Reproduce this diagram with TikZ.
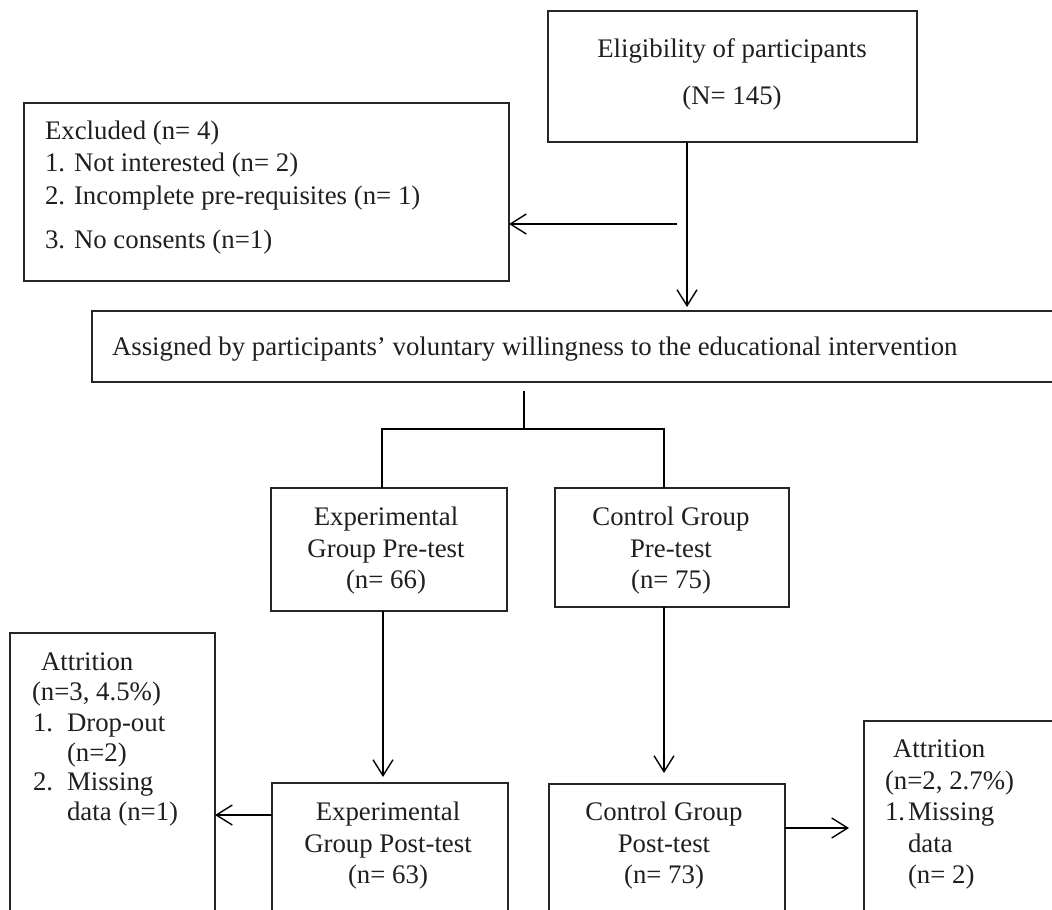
\documentclass[tikz,border=0pt]{standalone}
\usepackage{fontspec}
\setmainfont{Liberation Serif}
\usetikzlibrary{arrows.meta}
\begin{document}
\begin{tikzpicture}[x=1pt,y=-1pt,
  box/.style={draw=black!85, line width=1.4pt, inner sep=0pt, outer sep=0pt, anchor=north west},
  txt/.style={inner sep=0pt, outer sep=0pt, text=black!88, font=\fontsize{26.8}{31}\selectfont},
  conn/.style={line width=1.4pt, draw=black},
  arr/.style={line width=1.4pt, draw=black, -{Straight Barb[length=16pt,width=20pt]}}]
\clip (0,0) rectangle (1052,910);
\fill[white] (0,0) rectangle (1052,910);

% boxes
\node[box, minimum width=369pt, minimum height=131pt] (elig) at (548,11) {};
\node[box, minimum width=485pt, minimum height=178pt] (excl) at (24,103) {};
\node[box, minimum width=1000pt, minimum height=71pt] (assign) at (92,311) {};
\node[box, minimum width=236pt, minimum height=123pt] (exppre) at (271,488) {};
\node[box, minimum width=234pt, minimum height=119pt] (ctrlpre) at (555,488) {};
\node[box, minimum width=236pt, minimum height=200pt] (exppost) at (272,783) {};
\node[box, minimum width=236pt, minimum height=200pt] (ctrlpost) at (549,784) {};
\node[box, minimum width=205pt, minimum height=300pt] (attrL) at (10,633) {};
\node[box, minimum width=250pt, minimum height=260pt] (attrR) at (864,721) {};

% helper coordinates
\coordinate (split) at (687,224);
\coordinate (jm) at (524,429);
\coordinate (jl) at (382,429);
\coordinate (jr) at (664,429);
\coordinate (ax) at (383,700);
\coordinate (cx) at (664,700);
\coordinate (ly) at (240,815);
\coordinate (ry) at (820,828);

% connectors
\draw[arr, shorten >=4pt] (elig.south -| split) -- (assign.north -| split);
\draw[arr] ([xshift=-10pt]split) -- (excl.east |- split);
\draw[conn] ([yshift=-9pt]assign.south -| jm) -- (jm);
\draw[conn] (exppre.north -| jl) -- (jl) -- (jr) -- (ctrlpre.north -| jr);
\draw[arr, shorten >=6pt] (exppre.south -| ax) -- (exppost.north -| ax);
\draw[arr, shorten >=11pt] (ctrlpre.south -| cx) -- (ctrlpost.north -| cx);
\draw[arr] (exppost.west |- ly) -- (attrL.east |- ly);
\draw[arr, shorten >=15pt] (ctrlpost.east |- ry) -- (attrR.west |- ry);

% texts
\node[txt, anchor=base] (t1) at (732,57) {Eligibility of participants};
\node[txt, anchor=base] (t2) at (732,104) {(N= 145)};

\node[txt, anchor=base west] (e1) at (45,139) {Excluded (n= 4)};
\node[txt, anchor=base west] (e2) at (45,171) {1. Not interested (n= 2)};
\node[txt, anchor=base west] (e3) at (45,204) {2. Incomplete pre-requisites (n= 1)};
\node[txt, anchor=base west] (e4) at (45,248) {3. No consents (n=1)};

\node[txt, anchor=base west] (a1) at (112,355) {Assigned by participants’ voluntary willingness to the educational intervention};

\node[txt, anchor=base] (p1) at (386,525) {Experimental};
\node[txt, anchor=base] (p2) at (386,557) {Group Pre-test};
\node[txt, anchor=base] (p3) at (386,588) {(n= 66)};

\node[txt, anchor=base] (c1) at (671,525) {Control Group};
\node[txt, anchor=base] (c2) at (671,557) {Pre-test};
\node[txt, anchor=base] (c3) at (671,588) {(n= 75)};

\node[txt, anchor=base] (q1) at (388,820) {Experimental};
\node[txt, anchor=base] (q2) at (388,852) {Group Post-test};
\node[txt, anchor=base] (q3) at (388,883) {(n= 63)};

\node[txt, anchor=base] (d1) at (664,820) {Control Group};
\node[txt, anchor=base] (d2) at (664,852) {Post-test};
\node[txt, anchor=base] (d3) at (664,883) {(n= 73)};

\node[txt, anchor=base west] (l1) at (41,670) {Attrition};
\node[txt, anchor=base west] (l2) at (32,700) {(n=3, 4.5\%)};
\node[txt, anchor=base west] (l3a) at (33,731) {1.};
\node[txt, anchor=base west] (l3) at (67,731) {Drop-out};
\node[txt, anchor=base west] (l4) at (67,761) {(n=2)};
\node[txt, anchor=base west] (l5a) at (33,790) {2.};
\node[txt, anchor=base west] (l5) at (67,790) {Missing};
\node[txt, anchor=base west] (l6) at (67,820) {data (n=1)};

\node[txt, anchor=base west] (r1) at (893,757) {Attrition};
\node[txt, anchor=base west] (r2) at (885,789) {(n=2, 2.7\%)};
\node[txt, anchor=base west] (r3a) at (885,820) {1.};
\node[txt, anchor=base west] (r3) at (908,820) {Missing};
\node[txt, anchor=base west] (r4) at (908,852) {data};
\node[txt, anchor=base west] (r5) at (908,883) {(n= 2)};
\end{tikzpicture}
\end{document}
